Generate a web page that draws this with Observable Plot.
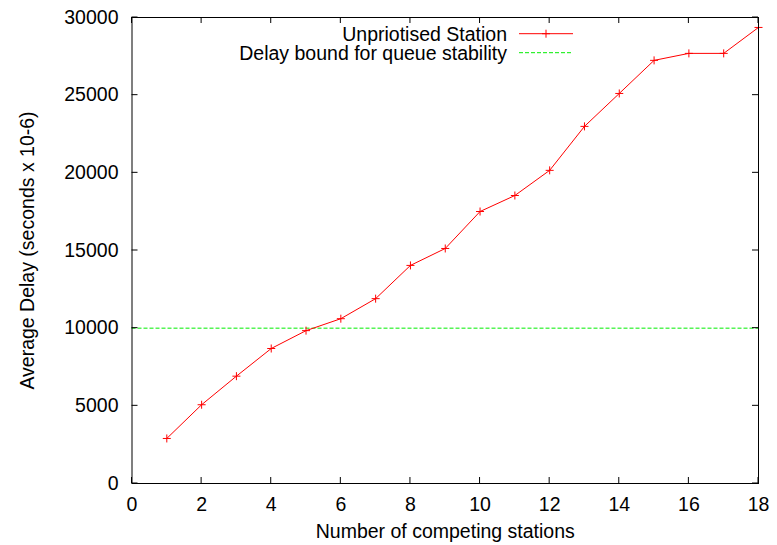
<!DOCTYPE html>
<html><head><meta charset="utf-8">
<script src="https://cdn.jsdelivr.net/npm/d3@7"></script>
<script src="https://cdn.jsdelivr.net/npm/@observablehq/plot@0.6"></script>
<style>body{margin:0;background:#fff}</style>
</head><body><div id="chart"></div>
<script>
const stations = [1,2,3,4,5,6,7,8,9,10,11,12,13,14,15,16,17,18];
const avgDelay = [2900,5070,6910,8690,9840,10610,11900,14040,15130,17510,18540,20160,22990,25110,27240,27690,27690,29360];
const stabilityBound = 10000;
const xTicks = [0,2,4,6,8,10,12,14,16,18];
const yTicks = [0,5000,10000,15000,20000,25000,30000];
const seriesNames = ["Unpriotised Station", "Delay bound for queue stability"];
const seriesColors = ["#ff0000", "#00ee00"];
const xLabel = "Number of competing stations";
const yLabel = "Average Delay (seconds x 10-6)";

const data = stations.map((s, i) => ({s, d: avgDelay[i]}));
const FONT = "Liberation Sans, Arial, Helvetica, sans-serif";
const FS = 19.5;
const W = 777, H = 545, mL = 131.5, mR = 19, mT = 17, mB = 62;

const chart = Plot.plot({
  width: W, height: H,
  marginLeft: mL, marginRight: mR, marginTop: mT, marginBottom: mB,
  style: {fontFamily: FONT, fontSize: FS + "px", background: "#fff", color: "#000"},
  x: {domain: [0, 18], ticks: xTicks, tickSize: 0, tickPadding: 14, tickFormat: d3.format("d"), label: null},
  y: {domain: [0, 30000], ticks: yTicks, tickSize: 0, tickPadding: 13.5, tickFormat: d3.format("d"), label: null},
  marks: [
    Plot.ruleY([stabilityBound], {stroke: seriesColors[1], strokeDasharray: "4,2", strokeWidth: 1}),
    Plot.line(data, {x: "s", y: "d", stroke: seriesColors[0], strokeWidth: 1}),
    Plot.dot(data, {x: "s", y: "d", symbol: "plus", r: 2.7, stroke: seriesColors[0], strokeWidth: 1}),
    Plot.frame({stroke: "#000", strokeWidth: 1}),
    Plot.text([xLabel], {frameAnchor: "bottom", dy: 48, fontSize: FS, lineAnchor: "middle", textAnchor: "middle"}),
    Plot.text([yLabel], {frameAnchor: "left", dx: -104, rotate: -90, fontSize: FS, lineAnchor: "middle", textAnchor: "middle"})
  ]
});

// inward mirrored ticks drawn with the plot's own scales
const xs = chart.scale("x"), ys = chart.scale("y");
const svg = d3.select(chart);
const tk = svg.append("g").attr("stroke", "#000").attr("stroke-width", 1);
const L = 6;
const fTop = mT, fBottom = H - mB, fLeft = mL, fRight = W - mR;
xTicks.forEach(t => {
  const x = xs.apply(t);
  tk.append("line").attr("x1", x).attr("x2", x).attr("y1", fBottom).attr("y2", fBottom - L);
  tk.append("line").attr("x1", x).attr("x2", x).attr("y1", fTop).attr("y2", fTop + L);
});
yTicks.forEach(t => {
  const y = ys.apply(t);
  tk.append("line").attr("y1", y).attr("y2", y).attr("x1", fLeft).attr("x2", fLeft + L);
  tk.append("line").attr("y1", y).attr("y2", y).attr("x1", fRight).attr("x2", fRight - L);
});

// legend (top right, inside the frame)
const lg = svg.append("g").attr("font-family", FONT).attr("font-size", FS);
const textRight = fRight - 251, s1 = fRight - 239, s2 = fRight - 185;
seriesNames.forEach((name, i) => {
  const base = fTop + 23.5 + i * 19;
  const y = base - 6.8;
  lg.append("text").attr("x", textRight).attr("y", base).attr("text-anchor", "end")
    .attr("fill", "#000").text(name);
  const ln = lg.append("line").attr("x1", s1).attr("x2", s2).attr("y1", y).attr("y2", y)
    .attr("stroke", seriesColors[i]).attr("stroke-width", 1);
  if (i === 1) ln.attr("stroke-dasharray", "4,2");
  if (i === 0) {
    const cx = (s1 + s2) / 2;
    lg.append("line").attr("x1", cx - 4).attr("x2", cx + 4).attr("y1", y).attr("y2", y).attr("stroke", seriesColors[0]);
    lg.append("line").attr("x1", cx).attr("x2", cx).attr("y1", y - 4).attr("y2", y + 4).attr("stroke", seriesColors[0]);
  }
});

document.getElementById("chart").appendChild(chart);
</script>
</body></html>
